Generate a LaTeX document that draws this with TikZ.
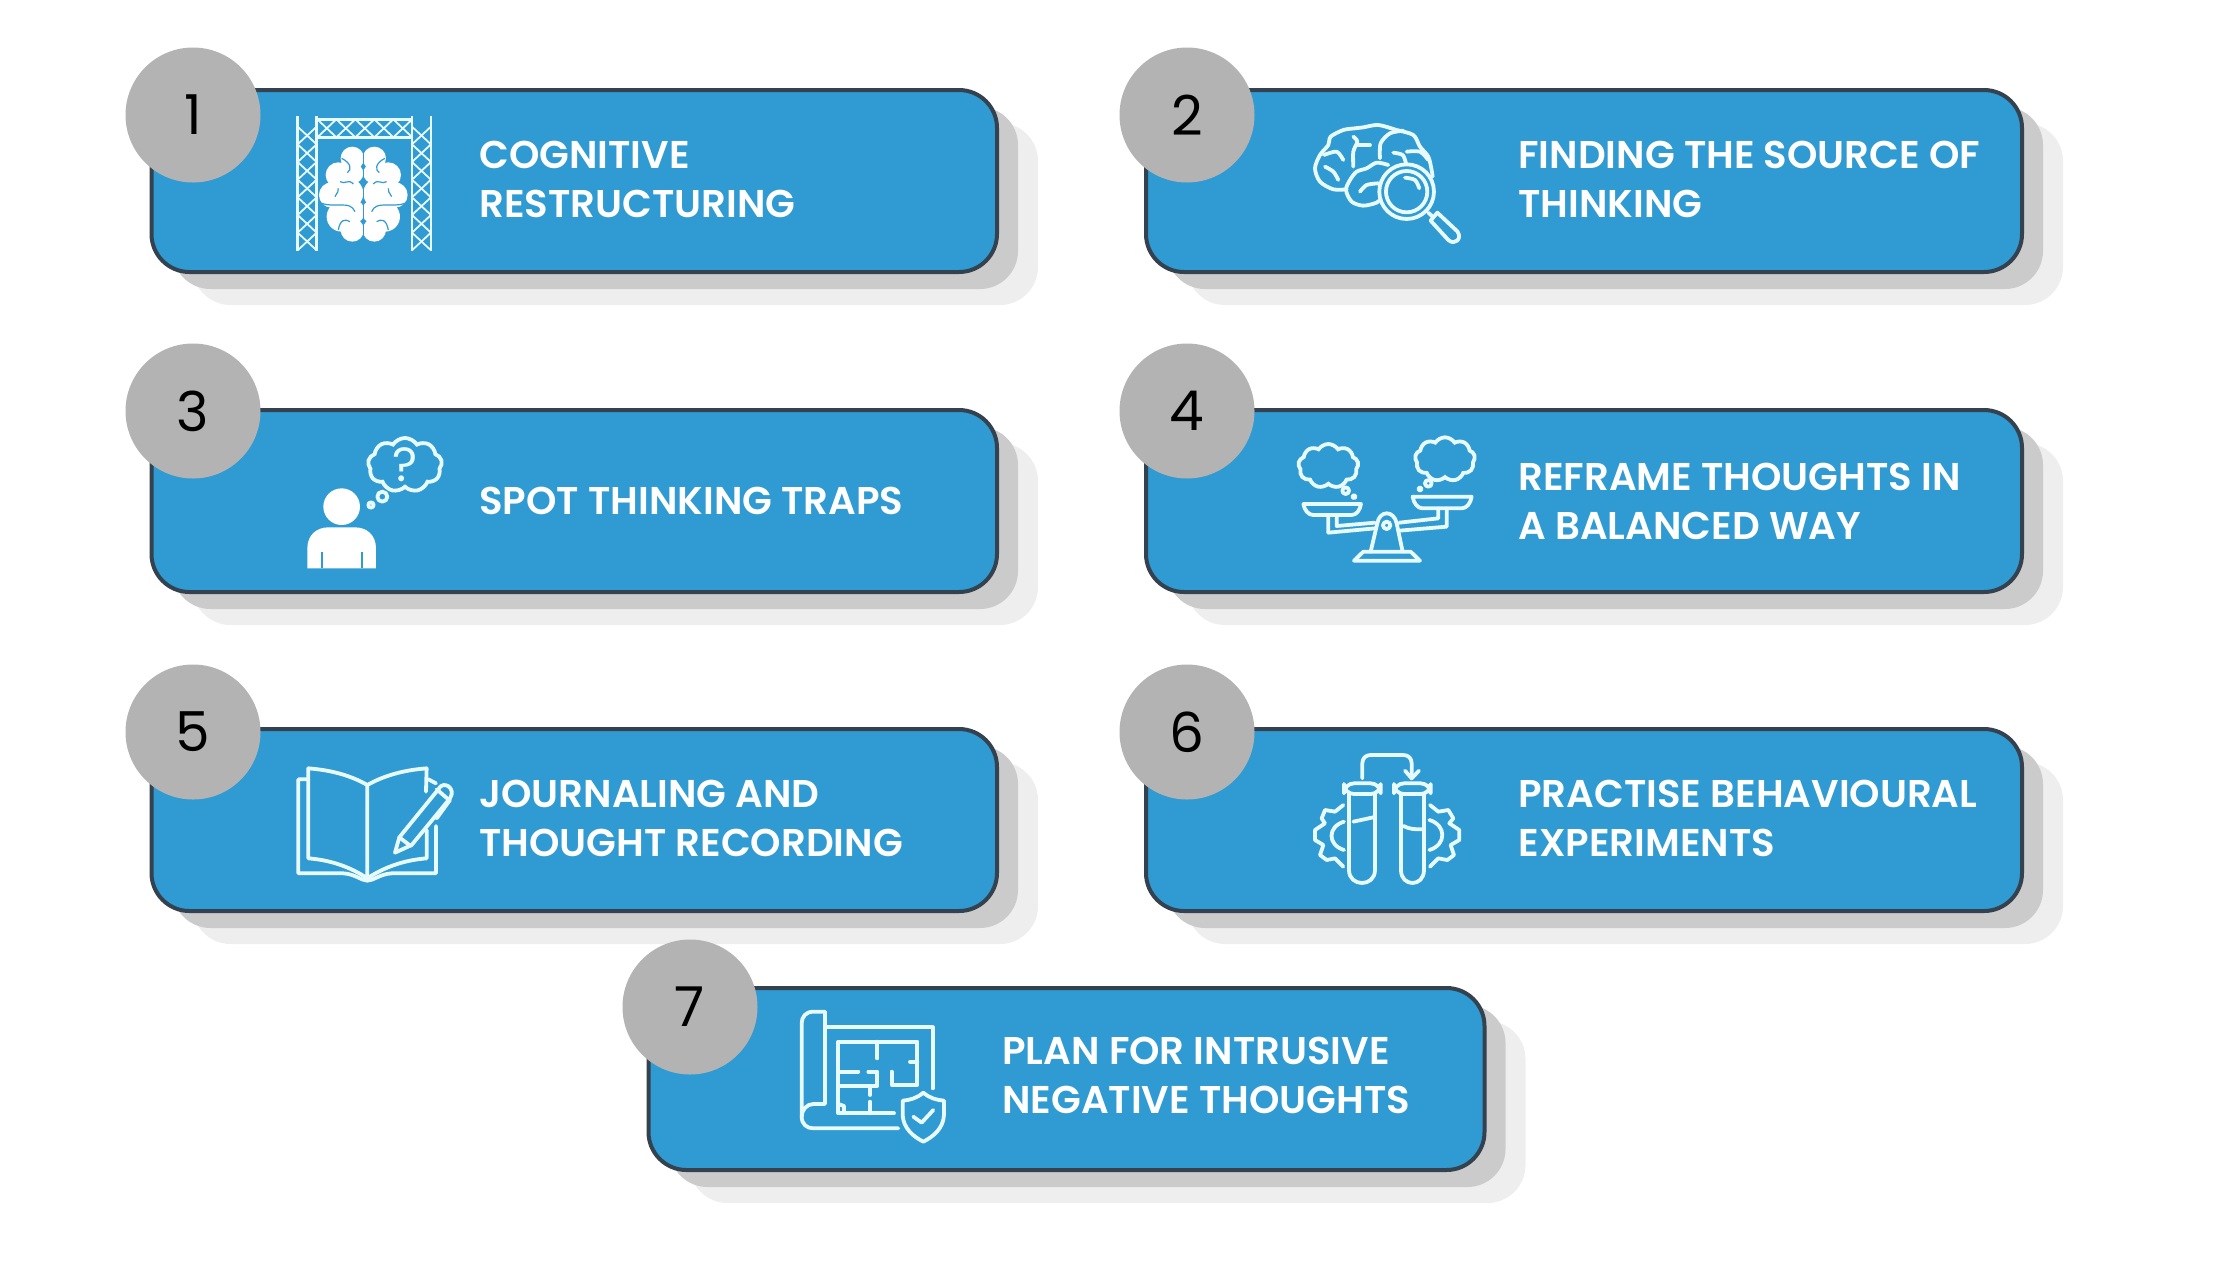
\documentclass[tikz,border=0pt]{standalone}
\usepackage{fontspec}
\setmainfont{Poppins}[BoldFont={Poppins SemiBold}]
\usetikzlibrary{shapes.symbols, positioning}

\definecolor{cardblue}{HTML}{2F9BD2}
\definecolor{cardedge}{HTML}{34424F}
\definecolor{badgegray}{HTML}{B3B3B3}
\definecolor{shadownear}{HTML}{CBCBCB}
\definecolor{shadowfar}{HTML}{EEEEEE}
\definecolor{iconwhite}{HTML}{E6FAFF}

\tikzset{
	cardbox/.style={draw=cardedge, fill=cardblue, line width=2pt, rounded corners=19pt, anchor=north west, inner sep=0pt, outer sep=0pt, minimum height=91pt},
	shadowbox/.style={rounded corners=19pt},
	badge/.style={circle, fill=badgegray, minimum size=67.5pt, inner sep=0pt, font=\fontsize{27.5}{30}\selectfont, text=black},
	cardtext/.style={anchor=west, align=left, inner sep=0pt, text=white, font=\fontsize{19.35}{24.5}\selectfont\bfseries},
	iconline/.style={draw=iconwhite, line width=1.9pt, line join=round, line cap=round},
	thinline/.style={draw=iconwhite, line width=0.9pt},
	thought/.style={cloud, draw=iconwhite, line width=1.9pt, cloud puffs=9, cloud puff arc=115, inner sep=0pt}
}

\begin{document}
\begin{tikzpicture}[x=0.5pt, y=-0.5pt]
	\useasboundingbox (0,0) rectangle (2240,1260);

	% Cards with their shadows, badges and labels
	\foreach \id/\xpos/\ypos/\wid/\cx/\cy/\tx/\ty/\txt in {
		1/151.5/90/845.5/193/115/479/179.5/{COGNITIVE\\RESTRUCTURING},
		2/1146/90/876/1187/115/1518/179.5/{FINDING THE SOURCE OF\\THINKING},
		3/151.5/410/845.5/193/411/479/500.5/{SPOT THINKING TRAPS},
		4/1146/410/876/1187/411/1518/501/{REFRAME THOUGHTS IN\\A BALANCED WAY},
		5/151.5/729/845.5/193/732/479/818.7/{JOURNALING AND\\THOUGHT RECORDING},
		6/1146/729/876/1187/732/1518/818.7/{PRACTISE BEHAVIOURAL\\EXPERIMENTS},
		7/648.5/988/836/690/1007/1002/1075.3/{PLAN FOR INTRUSIVE\\NEGATIVE THOUGHTS}} {
		\fill[shadowfar, shadowbox] ({\xpos+41},{\ypos+33}) rectangle ++(\wid,182);
		\fill[shadownear, shadowbox] ({\xpos+21},{\ypos+17}) rectangle ++(\wid,182);
		\node[cardbox, minimum width=\wid*0.5pt] (card\id) at (\xpos,\ypos) {};
		\node[badge] (badge\id) at (\cx,\cy) {\id};
		\node[cardtext] (label\id) at (\tx,\ty) {\txt};
	}

	% Icon 1: brain in scaffold
	\begin{scope}[shift={(100,30)}, scale=0.3333]
		\foreach \tower in {593,936} {
			\draw[thinline, line width=1.3pt] (\tower,258) -- (\tower,662);
			\draw[thinline, line width=1.3pt] ({\tower+57},258) -- ({\tower+57},662);
			\foreach \k in {0,...,6} {
				\draw[thinline] (\tower,{290+\k*53}) -- ({\tower+57},{343+\k*53});
				\draw[thinline] ({\tower+57},{290+\k*53}) -- (\tower,{343+\k*53});
			}
		}
		\draw[thinline, line width=1.3pt] (650,268) -- (936,268);
		\draw[thinline, line width=1.3pt] (650,322) -- (936,322);
		\foreach \k in {0,...,4} {
			\draw[thinline] ({652+\k*57},268) -- ({709+\k*57},322);
			\draw[thinline] ({709+\k*57},268) -- ({652+\k*57},322);
		}
		\foreach \side in {-1,1} {
			\begin{scope}[shift={(790,0)}, xscale=\side]
				\fill[white] (-33,385) circle (35) (-75,435) circle (38) (-30,430) circle (30) (-95,495) circle (38) (-65,560) circle (45) (-33,600) circle (35) (-45,490) circle (45) (-30,545) circle (35);
				\draw[cardblue, line width=0.6pt] (-65,385) .. controls (-35,400) and (-35,420) .. (-48,428);
				\draw[cardblue, line width=0.6pt] (-70,455) .. controls (-55,465) and (-45,445) .. (-30,462);
				\draw[cardblue, line width=0.6pt] (-75,475) .. controls (-75,495) and (-85,490) .. (-85,500);
				\draw[cardblue, line width=0.6pt] (-125,520) .. controls (-80,535) and (-40,510) .. (-25,545);
				\draw[cardblue, line width=0.6pt] (-75,600) .. controls (-70,570) and (-55,565) .. (-40,575);
			\end{scope}
		}
		\draw[cardblue, line width=0.7pt] (790,355) -- (790,635);
	\end{scope}

	% Icon 2: brain under magnifier
	\begin{scope}[shift={(1120,30)}, scale=0.3333]
		\draw[iconline] plot[smooth] coordinates {(680,478) (640,478) (600,455) (585,415) (600,375) (625,345) (632,320) (670,300) (705,295) (730,292) (775,285) (830,300) (880,315) (900,350) (925,380) (935,420) (938,440)};
		\draw[iconline] plot[smooth] coordinates {(805,405) (770,398) (740,415) (710,425) (690,450) (678,480) (695,515) (730,527) (770,518) (785,505)};
		\draw[iconline] plot[smooth] coordinates {(700,410) (700,365) (712,335) (700,320)};
		\draw[iconline] (712,345) -- (750,345);
		\draw[iconline] plot[smooth] coordinates {(780,385) (782,340) (810,310) (850,302)};
		\draw[iconline] plot[smooth] coordinates {(820,368) (848,375) (858,400)};
		\draw[iconline] plot[smooth] coordinates {(860,365) (900,365) (925,390)};
		\draw[iconline] plot[smooth] coordinates {(670,390) (650,365) (612,375)};
		\draw[iconline] plot[smooth] coordinates {(615,410) (640,425) (655,450)};
		\draw[iconline] plot[smooth] coordinates {(720,485) (740,465) (775,460)};
		\fill[cardblue] (860,485) circle (80);
		\draw[iconline] (860,485) circle (82);
		\draw[iconline] (860,485) circle (62);
		\draw[iconline] plot[smooth] coordinates {(855,443) (885,450) (898,475)};
		\draw[iconline] (925,548) -- (940,562);
		\draw[iconline] (932,572) -- (952,548) -- (1012,604) .. controls (1028,625) and (1005,648) .. (985,630) -- cycle;
	\end{scope}

	% Icon 3: person with a question
	\begin{scope}[shift={(270,420)}, scale=0.3333]
		\fill[white] (215,260) circle (55);
		\fill[white] (112,445) -- (112,385) .. controls (112,345) and (140,322) .. (175,322) -- (255,322) .. controls (290,322) and (318,345) .. (318,385) -- (318,445) -- cycle;
		\draw[cardblue, line width=0.9pt] (155,395) -- (155,445);
		\draw[cardblue, line width=0.9pt] (275,395) -- (275,445);
		\draw[iconline] (337,230) circle (15);
		\draw[iconline] (303,255) circle (8);
		\node[thought, minimum width=37pt, minimum height=27pt] (cloudq) at (405,135) {};
		\node[font=\fontsize{24}{24}\selectfont, text=iconwhite, inner sep=0pt] (qmark) at (cloudq.center) {?};
	\end{scope}

	% Icon 4: scales with two thoughts
	\begin{scope}[shift={(1280,420)}, scale=0.3333]
		\node[thought, minimum width=30pt, minimum height=22pt] (cloudl) at (145,138) {};
		\node[thought, minimum width=30pt, minimum height=22pt] (cloudr) at (495,118) {};
		\draw[iconline] (197,212) circle (10) (222,230) circle (5) (445,190) circle (10) (420,207) circle (5);
		\draw[iconline] (70,252) -- (243,252) .. controls (240,270) and (230,285) .. (215,285) -- (100,285) .. controls (85,285) and (73,270) .. (70,252) -- cycle;
		\draw[iconline] (398,230) -- (575,230) .. controls (572,250) and (560,265) .. (545,265) -- (428,265) .. controls (413,265) and (401,250) .. (398,230) -- cycle;
		\draw[iconline] (145,285) -- (145,338) -- (285,325);
		\draw[iconline] (170,290) -- (170,318) -- (285,308);
		\draw[iconline] (475,265) -- (475,295) -- (358,308);
		\draw[iconline] (500,265) -- (500,320) -- (358,332);
		\draw[iconline] (272,395) -- (292,310) .. controls (298,270) and (342,270) .. (350,310) -- (368,395);
		\draw[iconline] (222,422) -- (250,395) -- (392,395) -- (420,422) -- cycle;
		\draw[iconline] (320,316) circle (11);
	\end{scope}

	% Icon 5: open book and pen
	\begin{scope}[shift={(280,750)}, scale=0.3333]
		\draw[iconline] (262,105) .. controls (210,75) and (150,60) .. (85,55) -- (85,325) .. controls (150,330) and (210,350) .. (262,385) -- cycle;
		\draw[iconline] (438,125) -- (440,55) .. controls (375,60) and (315,75) .. (262,105);
		\draw[iconline] (262,385) .. controls (315,350) and (375,330) .. (440,325) -- (440,240);
		\draw[iconline] (85,88) -- (55,88) -- (55,370) -- (190,370) .. controls (225,372) and (245,392) .. (262,392) .. controls (280,392) and (300,372) .. (335,370) -- (468,370) -- (468,228);
		\draw[iconline] (445,88) -- (468,100);
		\draw[iconline] (345,308) -- (358,262) -- (475,118) .. controls (490,88) and (530,115) .. (510,145) -- (395,285) -- cycle;
		\draw[iconline] (358,262) -- (392,288);
		\draw[iconline] (470,118) -- (505,148);
		\draw[iconline] (510,150) -- (470,205);
	\end{scope}

	% Icon 6: test tubes and gears
	\begin{scope}[shift={(1300,740)}, scale=0.3333]
		\draw[iconline, rounded corners=5pt] (132,130) rectangle (242,162);
		\draw[iconline, rounded corners=5pt] (282,130) rectangle (392,162);
		\draw[iconline] (147,162) -- (147,390) .. controls (147,442) and (225,442) .. (225,390) -- (225,162);
		\draw[iconline] (303,162) -- (303,390) .. controls (303,442) and (372,442) .. (372,390) -- (372,162);
		\draw[iconline] (160,245) -- (220,232);
		\draw[iconline] (310,258) .. controls (330,268) and (345,268) .. (365,268);
		\draw[iconline] (187,115) -- (187,70) .. controls (187,55) and (197,45) .. (212,45) -- (310,45) .. controls (325,45) and (335,55) .. (335,70) -- (335,115);
		\draw[iconline] (315,92) -- (335,115) -- (357,92);
		\draw[iconline] (130,195) -- (105,215) -- (75,210) -- (65,235) -- (75,250) -- (45,270) -- (45,300) -- (70,315) -- (60,345) -- (80,360) -- (105,355) -- (130,380);
		\draw[iconline] (132,245) .. controls (82,260) and (82,315) .. (132,330);
		\draw[iconline] (390,195) -- (415,215) -- (445,210) -- (460,235) -- (448,250) -- (478,270) -- (478,300) -- (452,315) -- (462,345) -- (442,360) -- (415,355) -- (390,380);
		\draw[iconline] (388,240) .. controls (440,255) and (440,315) .. (388,330);
	\end{scope}

	% Icon 7: floor plan with shield
	\begin{scope}[shift={(790,1000)}, scale=0.3333]
		\draw[iconline] (105,35) -- (70,35) .. controls (48,35) and (35,50) .. (35,70) -- (35,350) .. controls (35,372) and (50,385) .. (70,385) -- (325,385);
		\draw[iconline] (105,35) -- (105,312) -- (70,312) .. controls (50,312) and (35,330) .. (35,350);
		\draw[iconline] (105,82) -- (428,82) -- (428,265);
		\draw[iconline] (312,340) -- (145,340) -- (145,125) -- (382,125) -- (382,255) -- (305,255) -- (305,215);
		\draw[iconline] (262,125) -- (262,175);
		\draw[iconline] (145,215) -- (205,215);
		\draw[iconline] (235,215) -- (262,215) -- (262,258) -- (145,258);
		\draw[iconline] (240,258) -- (240,285);
		\draw[iconline] (240,305) -- (240,340);
		\draw[iconline] (360,185) -- (382,185);
		\draw[iconline] (145,312) -- (162,318) -- (162,340);
		\draw[iconline] (400,278) .. controls (380,295) and (360,300) .. (338,302) -- (338,345) .. controls (340,385) and (370,410) .. (400,425) .. controls (430,410) and (460,385) .. (462,345) -- (462,302) .. controls (440,300) and (420,295) .. (400,278) -- cycle;
		\draw[iconline] (370,350) -- (395,368) -- (430,330);
	\end{scope}
\end{tikzpicture}
\end{document}
